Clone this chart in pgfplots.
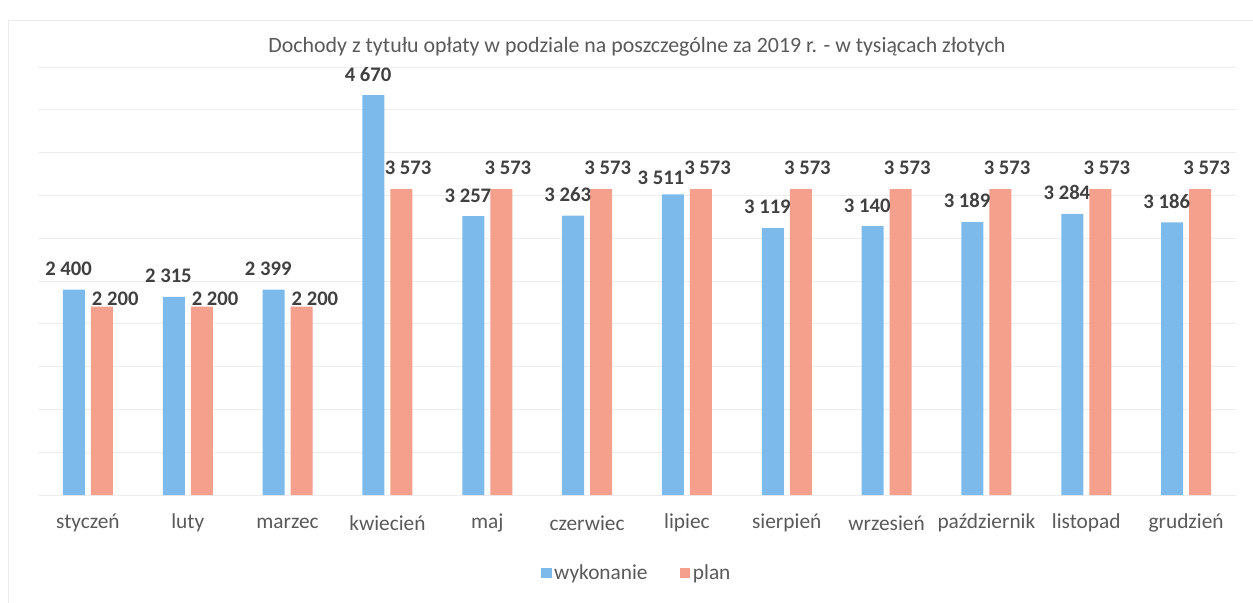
\documentclass[border=0pt]{standalone}
\usepackage{pgfplots}
\pgfplotsset{compat=1.18}
\usepackage{fontspec}
\setmainfont{Carlito}
\definecolor{cblue}{RGB}{124,186,236}
\definecolor{corange}{RGB}{244,160,140}
\definecolor{lbl}{RGB}{64,64,64}
\definecolor{tick}{RGB}{89,89,89}
\begin{document}
\begin{tikzpicture}
\begin{axis}[
  scale only axis,
  width=898.5pt, height=321pt,
  ybar=4.5pt, bar width=16.5pt,
  xmin=-0.5, xmax=11.5, ymin=0, ymax=5000,
  xtick={0,...,11},
  xticklabels={styczeń,luty,marzec,kwiecień,maj,czerwiec,lipiec,sierpień,wrzesień,październik,listopad,grudzień},
  xticklabel style={font=\fontsize{16pt}{18pt}\selectfont, color=tick, anchor=center, yshift=-21pt},
  ytick={0,500,...,5000},
  yticklabels={},
  major tick length=0pt,
  ymajorgrids, grid style={gray!14, line width=0.6pt},
  axis line style={draw=none},
  title={Dochody z tytułu opłaty w podziale na poszczególne za 2019 r. - w tysiącach złotych},
  title style={font=\fontsize{16.4pt}{18pt}\selectfont, color=tick, at={(0.5,1)}, anchor=center, yshift=9.5pt},
  nodes near coords={\pgfmathprintnumber[assume math mode=true,fixed,precision=0,1000 sep={\ }]{\pgfplotspointmeta}},
  every node near coord/.append style={font=\bfseries\fontsize{15.5pt}{17pt}\selectfont, color=lbl, yshift=7pt},
  legend style={at={(0.5,-0.182)}, anchor=center, legend columns=2, draw=none, fill=none,
    font=\fontsize{16pt}{18pt}\selectfont, text=tick,
    /tikz/every even column/.append style={column sep=22pt}},
  legend image code/.code={\fill[#1] (0pt,-4pt) rectangle (8pt,4pt);},
]
\addplot[fill=cblue, draw=none, visualization depends on={x \as \xb},
  every node near coord/.append style={xshift={ifthenelse(abs(\xb-6)<0.1,-9,-4)}, yshift={ifthenelse(abs(\xb-6)<0.1,-3,0)}}] coordinates {(0,2400) (1,2315) (2,2399) (3,4670) (4,3257) (5,3263) (6,3511) (7,3119) (8,3140) (9,3189) (10,3284) (11,3186)};
\addplot[fill=corange, draw=none, visualization depends on={x \as \xv},
  every node near coord/.append style={xshift={ifthenelse(\xv<2.5,10,5)}, yshift={ifthenelse(\xv<2.5,-10,0)}}] coordinates {(0,2200) (1,2200) (2,2200) (3,3573) (4,3573) (5,3573) (6,3573) (7,3573) (8,3573) (9,3573) (10,3573) (11,3573)};
\legend{wykonanie, plan}
\end{axis}
\pgfresetboundingbox
\useasboundingbox (-28.5pt,-81pt) rectangle ++(939.75pt,452.25pt);
\draw[gray!15, line width=0.6pt] (-22.5pt,-81pt) -- (-22.5pt,356.25pt) -- (911.25pt,356.25pt);
\end{tikzpicture}
\end{document}
